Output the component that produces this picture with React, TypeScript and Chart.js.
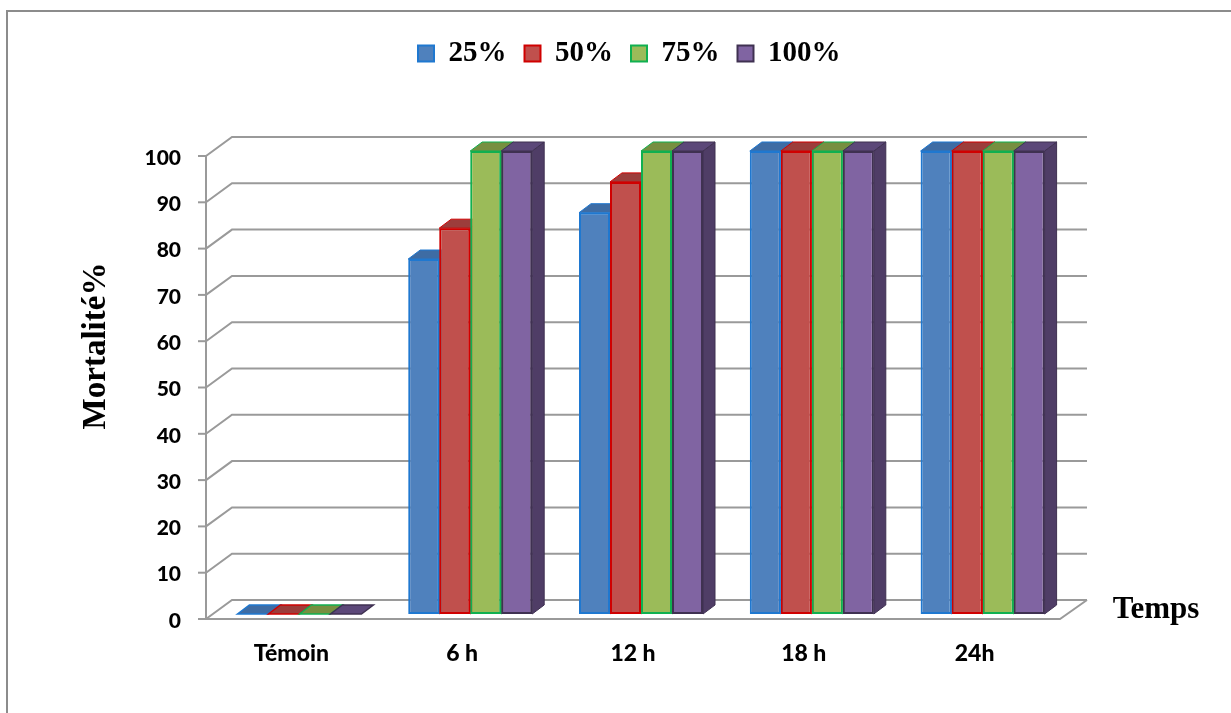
import React, { useEffect, useRef } from 'react';
import { Chart, registerables } from 'chart.js';

Chart.register(...registerables);

// ---- data ----
const categories = ['Témoin', '6 h', '12 h', '18 h', '24h'];
const seriesLabels = ['25%', '50%', '75%', '100%'];
const values25 = [0, 76.67, 86.67, 100, 100];
const values50 = [0, 83.33, 93.33, 100, 100];
const values75 = [0, 100, 100, 100, 100];
const values100 = [0, 100, 100, 100, 100];
const yMin = 0;
const yMax = 100;
const yStep = 10;
const yTitle = 'Mortalité%';
const xTitle = 'Temps';

// ---- styles ----
const fillColors = ['#4F81BD', '#C0504D', '#9BBB59', '#8064A2'];
const borderColors = ['#1F78D0', '#D00000', '#10B050', '#3F3151'];
const topColors = ['#3E6CA4', '#9C3D3B', '#778F40', '#5C4879'];
const sideColors = ['#35608F', '#8A3432', '#6A8238', '#4F3D66'];
const GRID = '#9a9a9a';
const BAR_DX = 12;
const BAR_DY = -9;
const FRONT_DX = -8;
const FRONT_DY = 5;
const BACK_DX = 18;
const BACK_DY = -14;
const LEGEND_START_X = 418;

const threeD = {
  id: 'threeD',
  afterLayout(chart: any) {
    const l = chart.legend;
    if (!l || !l.lineWidths) return;
    const pad = l.options.labels.padding;
    const start = (l.left + pad + l.right - l.lineWidths[0]) / 2;
    const dx = LEGEND_START_X - start;
    l.left += dx;
    l.right += dx;
  },
  beforeDatasetsDraw(chart: any) {
    const { ctx, chartArea: ca } = chart;
    const y = chart.scales.y;
    ctx.save();
    ctx.strokeStyle = GRID;
    ctx.lineWidth = 2;
    const fx = ca.left + FRONT_DX;
    const bx = ca.left + BACK_DX;
    const rx = ca.right + BACK_DX + 1;
    y.ticks.forEach((t: any) => {
      const py = y.getPixelForValue(t.value);
      ctx.beginPath();
      ctx.moveTo(fx, py + FRONT_DY);
      ctx.lineTo(bx, py + BACK_DY);
      ctx.lineTo(rx, py + BACK_DY);
      ctx.stroke();
      ctx.beginPath();
      ctx.moveTo(fx - 8, py + FRONT_DY);
      ctx.lineTo(fx, py + FRONT_DY);
      ctx.stroke();
    });
    const y0 = y.getPixelForValue(yMin);
    const yTop = y.getPixelForValue(yMax);
    ctx.beginPath();
    ctx.moveTo(fx, yTop + FRONT_DY);
    ctx.lineTo(fx, y0 + FRONT_DY);
    ctx.stroke();
    ctx.beginPath();
    ctx.moveTo(fx, y0 + FRONT_DY);
    ctx.lineTo(ca.right + FRONT_DX, y0 + FRONT_DY);
    ctx.lineTo(rx, y0 + BACK_DY);
    ctx.stroke();

    ctx.lineWidth = 1;
    chart.data.datasets.forEach((ds: any, di: number) => {
      const meta = chart.getDatasetMeta(di);
      if (meta.hidden) return;
      meta.data.forEach((el: any) => {
        const p = el.getProps(['x', 'y', 'base', 'width'], true);
        const x0 = p.x - p.width / 2;
        const x1 = p.x + p.width / 2;
        const top = Math.min(p.y, p.base);
        const base = Math.max(p.y, p.base);
        ctx.strokeStyle = borderColors[di];
        if (base - top > 0.5) {
          ctx.beginPath();
          ctx.moveTo(x1, top);
          ctx.lineTo(x1 + BAR_DX, top + BAR_DY);
          ctx.lineTo(x1 + BAR_DX, base + BAR_DY);
          ctx.lineTo(x1, base);
          ctx.closePath();
          ctx.fillStyle = sideColors[di];
          ctx.fill();
          ctx.stroke();
        }
        ctx.beginPath();
        ctx.moveTo(x0, top);
        ctx.lineTo(x0 + BAR_DX, top + BAR_DY);
        ctx.lineTo(x1 + BAR_DX, top + BAR_DY);
        ctx.lineTo(x1, top);
        ctx.closePath();
        ctx.fillStyle = topColors[di];
        ctx.fill();
        ctx.lineWidth = base - top > 0.5 ? 1 : 1.5;
        ctx.stroke();
        ctx.lineWidth = 1;
      });
    });
    ctx.restore();
  },
  afterDraw(chart: any) {
    const { ctx } = chart;
    ctx.save();
    ctx.fillStyle = '#000';
    ctx.font = 'bold 31px "Liberation Serif"';
    ctx.textAlign = 'center';
    ctx.textBaseline = 'alphabetic';
    ctx.fillText(xTitle, 1156, 618);
    ctx.translate(105, 346);
    ctx.rotate(-Math.PI / 2);
    ctx.font = 'bold 33px "Liberation Serif"';
    ctx.fillText(yTitle, 0, 0);
    ctx.restore();
  },
};

export default function App() {
  const ref = useRef<HTMLCanvasElement>(null);
  useEffect(() => {
    if (!ref.current) return;
    const seriesValues = [values25, values50, values75, values100];
    const chart = new Chart(ref.current, {
      type: 'bar',
      data: {
        labels: categories,
        datasets: seriesValues.map((vals, i) => ({
          label: seriesLabels[i],
          data: vals,
          backgroundColor: fillColors[i],
          borderColor: borderColors[i],
          borderWidth: 2,
          borderSkipped: false,
          categoryPercentage: 0.726,
          barPercentage: 1,
        })),
      },
      options: {
        responsive: false,
        animation: false,
        layout: { padding: { left: 0, right: 163, top: 21, bottom: 0 } },
        plugins: {
          tooltip: { enabled: false },
          legend: {
            position: 'top',
            weight: 3000,
            labels: {
              boxWidth: 16,
              boxHeight: 16,
              padding: 18,
              color: '#000',
              font: { family: '"Liberation Serif"', size: 29, weight: 'bold' },
            },
          },
          title: {
            display: true,
            text: '',
            font: { size: 10 },
            padding: { top: 0, bottom: 61 },
          },
        },
        scales: {
          x: {
            grid: { display: false, drawTicks: false },
            border: { display: false },
            ticks: {
              color: '#000',
              font: { family: 'Lato', size: 23, weight: 900 },
              padding: 26,
              labelOffset: FRONT_DX,
              maxRotation: 0,
              autoSkip: false,
            },
            afterFit: (s: any) => {
              s.height = 99;
            },
          },
          y: {
            min: yMin,
            max: yMax,
            grid: { display: false, drawTicks: false },
            border: { display: false },
            ticks: {
              stepSize: yStep,
              color: '#000',
              font: { family: 'Lato', size: 21, weight: 900 },
              padding: 33,
              labelOffset: 7,
            },
            afterFit: (s: any) => {
              s.width = 214;
            },
          },
        },
      },
      plugins: [threeD],
    } as any);
    return () => chart.destroy();
  }, []);

  return (
    <div
      style={{
        position: 'fixed',
        left: 0,
        top: 0,
        width: 1231,
        height: 713,
        background: '#fff',
        overflow: 'hidden',
      }}
    >
      <div
        style={{
          position: 'absolute',
          left: 6,
          top: 10,
          width: 1400,
          height: 900,
          borderTop: '2px solid #8c8c8c',
          borderLeft: '2px solid #8c8c8c',
        }}
      />
      <canvas
        ref={ref}
        width={1231}
        height={713}
        style={{ position: 'absolute', left: 0, top: 0, width: 1231, height: 713 }}
      />
    </div>
  );
}
